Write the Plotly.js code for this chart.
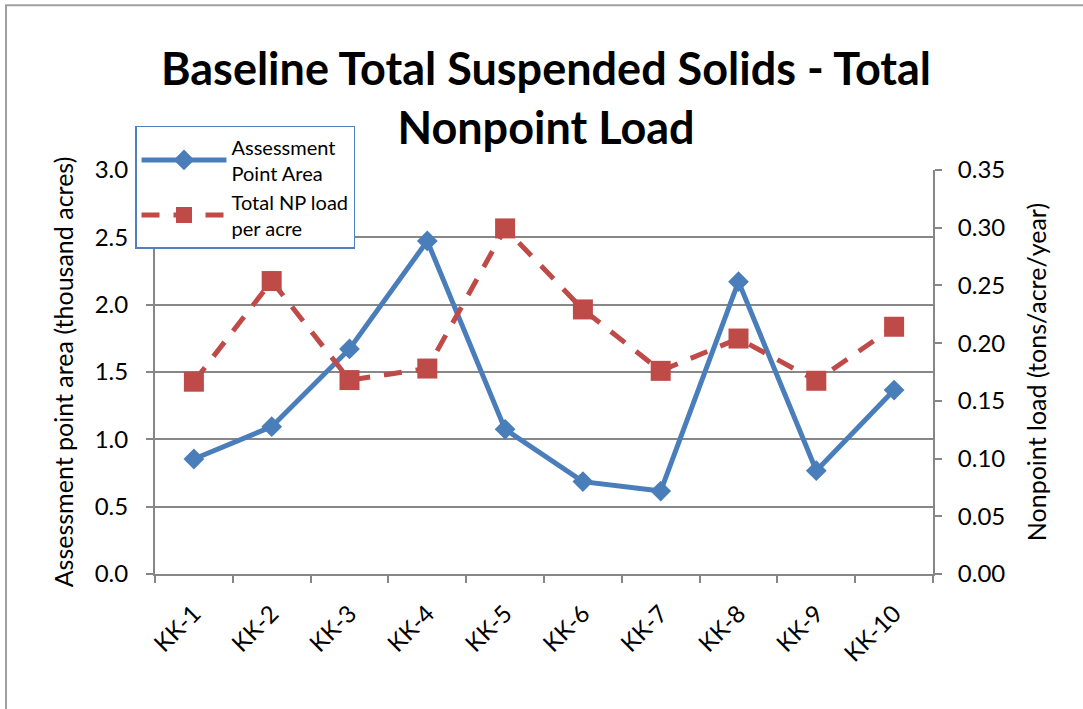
<!DOCTYPE html>
<html>
<head>
<meta charset="utf-8">
<script src="https://cdn.plot.ly/plotly-3.0.1.min.js"></script>
<style>
html,body{margin:0;padding:0;background:#fff;}
#chart{width:1083px;height:709px;}
</style>
</head>
<body>
<div id="chart"></div>
<script>
const categories = ["KK-1","KK-2","KK-3","KK-4","KK-5","KK-6","KK-7","KK-8","KK-9","KK-10"];
const assessmentArea = [0.854, 1.094, 1.671, 2.473, 1.074, 0.686, 0.616, 2.171, 0.767, 1.366];
const npLoadPerAcre = [0.1666, 0.2538, 0.168, 0.178, 0.2994, 0.2292, 0.176, 0.204, 0.1674, 0.2142];
const chartTitle = "Baseline Total Suspended Solids - Total<br>Nonpoint Load";

const FONT = "Lato, 'Open Sans', sans-serif";

const traces = [
  {
    x: categories, y: assessmentArea, type: "scatter", mode: "lines+markers",
    name: "Assessment<br>Point Area",
    line: {color: "#4a7ebb", width: 5},
    marker: {symbol: "diamond", size: 16, color: "#4a7ebb"},
    yaxis: "y"
  },
  {
    x: categories, y: npLoadPerAcre, type: "scatter", mode: "lines+markers",
    name: "Total NP load<br>per acre",
    line: {color: "#be4b48", width: 5, dash: "18px,14px"},
    marker: {symbol: "square", size: 20, color: "#be4b48"},
    yaxis: "y2"
  }
];

const layout = {
  width: 1083, height: 709,
  margin: {l: 155, r: 150, t: 170, b: 135},
  paper_bgcolor: "#fff", plot_bgcolor: "#fff",
  font: {family: FONT, color: "#000", size: 22},
  showlegend: true,
  xaxis: {
    type: "category", tickson: "boundaries", range: [-0.5, 9.5],
    ticks: "outside", ticklen: 7, tickcolor: "#868686", tickwidth: 2,
    showline: true, linecolor: "#868686", linewidth: 2,
    showgrid: false, tickangle: -45,
    tickfont: {family: FONT, size: 24, color: "#000"},
    ticklabelstandoff: 14,
    automargin: false
  },
  yaxis: {
    range: [0, 3], dtick: 0.5, tickformat: ".1f",
    ticks: "outside", ticklen: 7, tickcolor: "#868686", tickwidth: 2,
    showline: true, linecolor: "#868686", linewidth: 2,
    showgrid: true, gridcolor: "#878787", gridwidth: 2,
    zeroline: false,
    tickfont: {family: FONT, size: 24, color: "#000"},
    ticklabelstandoff: 13,
    title: {text: "Assessment point area (thousand acres)", font: {family: FONT, size: 25, color: "#000"}, standoff: 14},
    automargin: false
  },
  yaxis2: {
    overlaying: "y", side: "right",
    range: [0, 0.35], dtick: 0.05, tickformat: ".2f",
    ticks: "outside", ticklen: 7, tickcolor: "#868686", tickwidth: 2,
    showline: true, linecolor: "#868686", linewidth: 2,
    showgrid: false, zeroline: false,
    tickfont: {family: FONT, size: 24, color: "#000"},
    ticklabelstandoff: 11,
    title: {text: "Nonpoint load (tons/acre/year)", font: {family: FONT, size: 25, color: "#000"}, standoff: 24},
    automargin: false
  },
  legend: {
    x: -0.0257, y: 1.109, xanchor: "left", yanchor: "top",
    bgcolor: "#fff", bordercolor: "#4f81bd", borderwidth: 1.5,
    font: {family: FONT, size: 20, color: "#000"},
    itemwidth: 85, tracegroupgap: 0
  },
  annotations: [
    {text: "<b>" + chartTitle + "</b>", xref: "paper", yref: "paper",
     x: 0.503, y: 1.18, xanchor: "center", yanchor: "middle", showarrow: false,
     font: {family: FONT, size: 45, color: "#000"}}
  ],
  shapes: [
    {type: "rect", xref: "paper", yref: "paper",
     x0: -0.1915, x1: 1.6, y0: -0.6, y1: 1.408,
     line: {color: "#a0a0a0", width: 2}, fillcolor: "rgba(0,0,0,0)", layer: "below"}
  ]
};

Plotly.newPlot("chart", traces, layout, {displayModeBar: false, staticPlot: true});
</script>
</body>
</html>
